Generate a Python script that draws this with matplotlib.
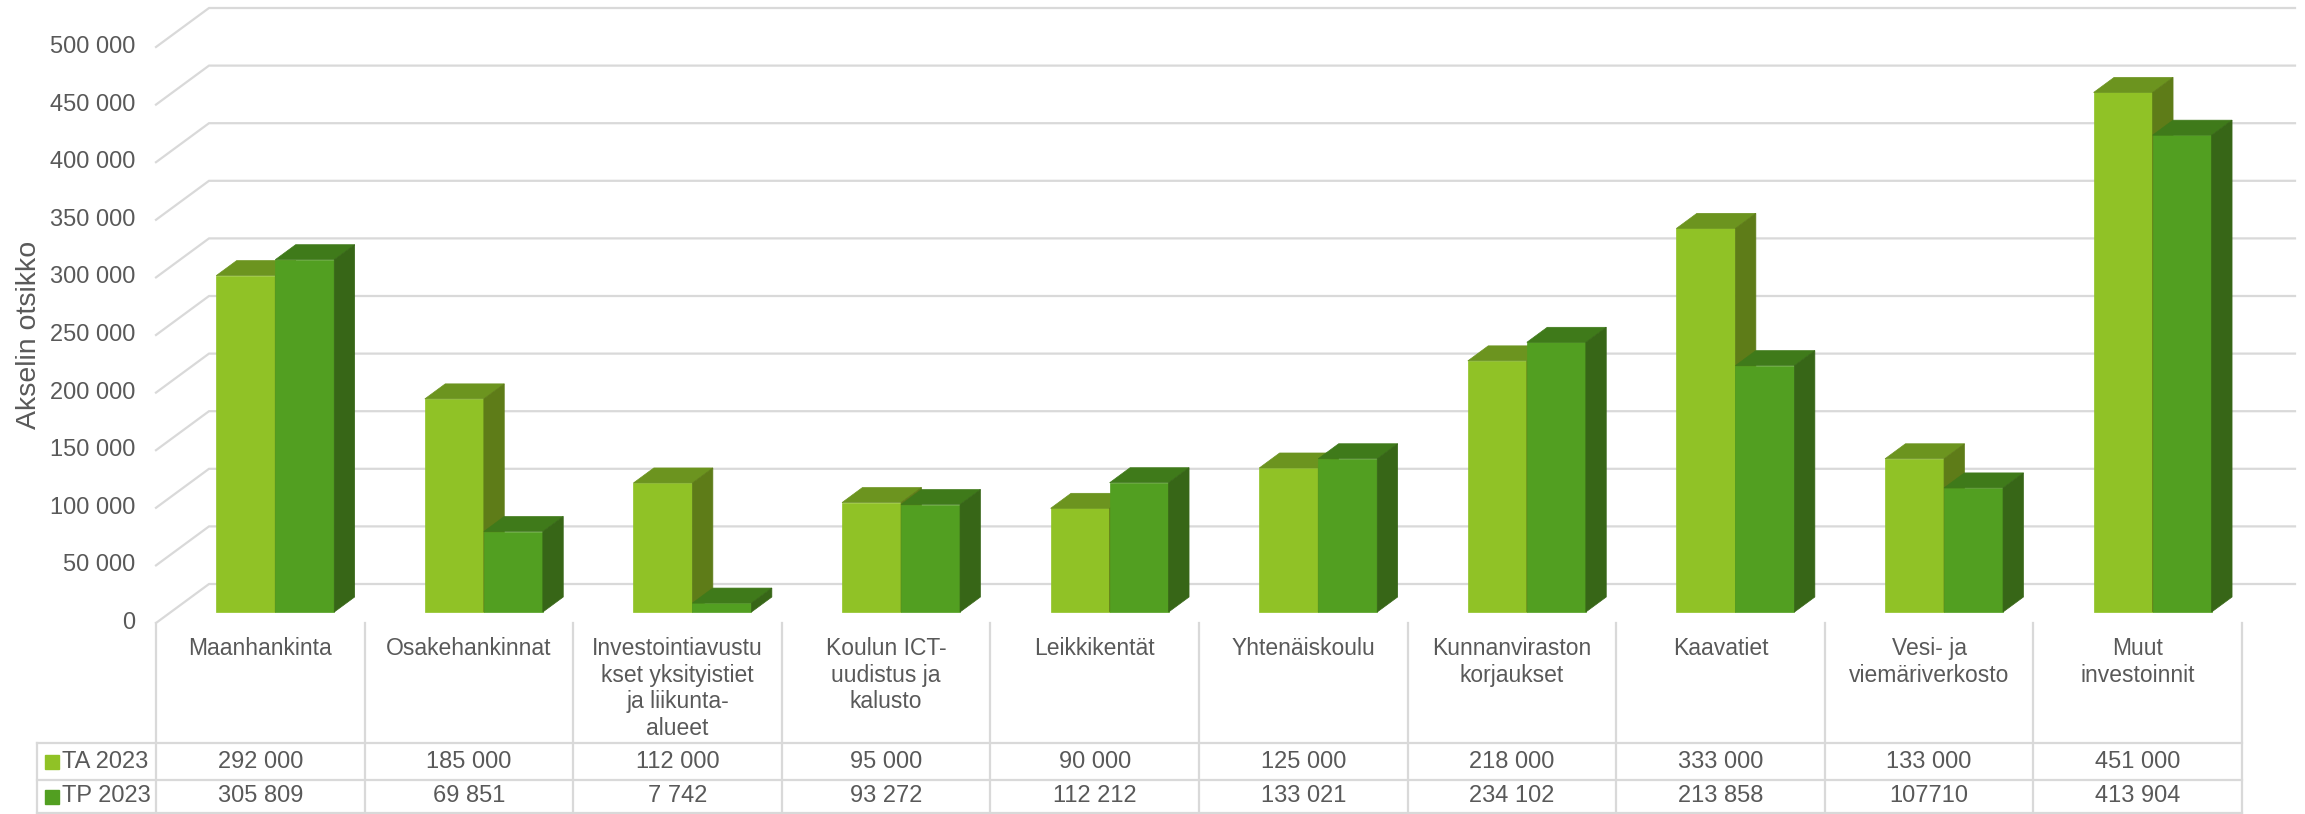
import matplotlib
matplotlib.use("Agg")
import matplotlib.pyplot as plt
from matplotlib.patches import Polygon
from matplotlib.transforms import blended_transform_factory

# ---------------- data ----------------
categories = [
    "Maanhankinta",
    "Osakehankinnat",
    "Investointiavustu\nkset yksityistiet\nja liikunta-\nalueet",
    "Koulun ICT-\nuudistus ja\nkalusto",
    "Leikkikentät",
    "Yhtenäiskoulu",
    "Kunnanviraston\nkorjaukset",
    "Kaavatiet",
    "Vesi- ja\nviemäriverkosto",
    "Muut\ninvestoinnit",
]
series_names = ["TA 2023", "TP 2023"]
ta_2023 = [292000, 185000, 112000, 95000, 90000, 125000, 218000, 333000, 133000, 451000]
tp_2023 = [305809, 69851, 7742, 93272, 112212, 133021, 234102, 213858, 107710, 413904]
ta_text = ["292 000", "185 000", "112 000", "95 000", "90 000", "125 000",
           "218 000", "333 000", "133 000", "451 000"]
tp_text = ["305 809", "69 851", "7 742", "93 272", "112 212", "133 021",
           "234 102", "213 858", "107710", "413 904"]
y_ticks = [0, 50000, 100000, 150000, 200000, 250000, 300000, 350000, 400000, 450000, 500000]
y_label = "Akselin otsikko"

# ---------------- style ----------------
plt.rcParams["font.family"] = ["Liberation Sans Narrow", "DejaVu Sans Condensed",
                               "Liberation Sans", "DejaVu Sans"]
TXT = "#595959"
GRID = "#D9D9D9"
TA_COLS = ("#90C226", "#6C941F", "#5E7C18")   # front, top, side
TP_COLS = ("#529F21", "#3F7A1A", "#376617")

W, H, DPI = 2305, 814, 100
fig = plt.figure(figsize=(W / DPI, H / DPI), dpi=DPI)
ax = fig.add_axes([0, 0, 1, 1])
ax.axis("off")

# layout (pixels of the figure)
x0_px, cat_px = 156.0, 208.6      # first category edge, width of a category
y0_px, ytop_px = 623.0, 47.0      # value 0 and value 500000 on the front plane
vmax = 500000.0
vpp = vmax / (y0_px - ytop_px)
ncat = len(categories)
ax.set_xlim((0 - x0_px) / cat_px, (W - x0_px) / cat_px)
ax.set_ylim(-(H - y0_px) * vpp, y0_px * vpp)

DX = 53.0 / cat_px      # depth offset of the floor (category units)
DY = 39.0 * vpp         # depth offset of the floor (value units)
bar_w = 59.0 / cat_px
d_front, d_back = 0.282, 0.667


def P(x, v, d):
    return (x + d * DX, v + d * DY)


# back wall + left wall grid
for v in y_ticks:
    ax.plot([0, DX, ncat + DX], [v, v + DY, v + DY], color=GRID, lw=1.6,
            zorder=1, solid_joinstyle="miter", clip_on=False)
    ax.text(-0.1, v, f"{v:,}".replace(",", " "), ha="right", va="center",
            fontsize=17, color=TXT)


def draw_box(xl, xr, v, cols, z):
    front = [P(xl, 0, d_front), P(xr, 0, d_front), P(xr, v, d_front), P(xl, v, d_front)]
    top = [P(xl, v, d_front), P(xr, v, d_front), P(xr, v, d_back), P(xl, v, d_back)]
    side = [P(xr, 0, d_front), P(xr, 0, d_back), P(xr, v, d_back), P(xr, v, d_front)]
    for poly, c in ((front, cols[0]), (top, cols[1]), (side, cols[2])):
        ax.add_patch(Polygon(poly, closed=True, facecolor=c, edgecolor=c,
                             lw=0.5, zorder=z))


for i in range(ncat):
    c = i + 0.5
    draw_box(c - bar_w, c, ta_2023[i], TA_COLS, 3)
    draw_box(c, c + bar_w, tp_2023[i], TP_COLS, 4)

fig.text(29 / W, 1 - 335 / H, y_label, rotation=90, ha="center", va="center",
         fontsize=20.5, color=TXT)

# ---------------- data table ----------------
tr = blended_transform_factory(ax.transData, fig.transFigure)


def fy(py):
    return 1 - py / H


leg_left = (37 - x0_px) / cat_px
row_top, row1, row2, row_bot = 623, 743, 780, 813
for py in (row1, row2, row_bot):
    ax.plot([leg_left, ncat], [fy(py), fy(py)], color=GRID, lw=1.6,
            transform=tr, clip_on=False, zorder=1)
ax.plot([leg_left, leg_left], [fy(row1), fy(row_bot)], color=GRID, lw=1.6,
        transform=tr, clip_on=False, zorder=1)
for i in range(ncat + 1):
    ax.plot([i, i], [fy(row_top), fy(row_bot)], color=GRID, lw=1.6,
            transform=tr, clip_on=False, zorder=1)

for i, lab in enumerate(categories):
    ax.text(i + 0.5, fy(637), lab, ha="center", va="top", fontsize=16.5,
            color=TXT, linespacing=1.2, transform=tr)
    ax.text(i + 0.5, fy((row1 + row2) / 2), ta_text[i], ha="center", va="center",
            fontsize=17, color=TXT, transform=tr)
    ax.text(i + 0.5, fy((row2 + row_bot) / 2), tp_text[i], ha="center", va="center",
            fontsize=17, color=TXT, transform=tr)

sq_x = (51.5 - x0_px) / cat_px
tx_x = (62 - x0_px) / cat_px
for name, col, (a, b) in ((series_names[0], TA_COLS[0], (row1, row2)),
                          (series_names[1], TP_COLS[0], (row2, row_bot))):
    ym = fy((a + b) / 2)
    ax.plot([sq_x], [ym], marker="s", markersize=9.5, color=col,
            transform=tr, clip_on=False, linestyle="none")
    ax.text(tx_x, ym, name, ha="left", va="center", fontsize=17, color=TXT,
            transform=tr)

fig.savefig("out.png", dpi=DPI)
